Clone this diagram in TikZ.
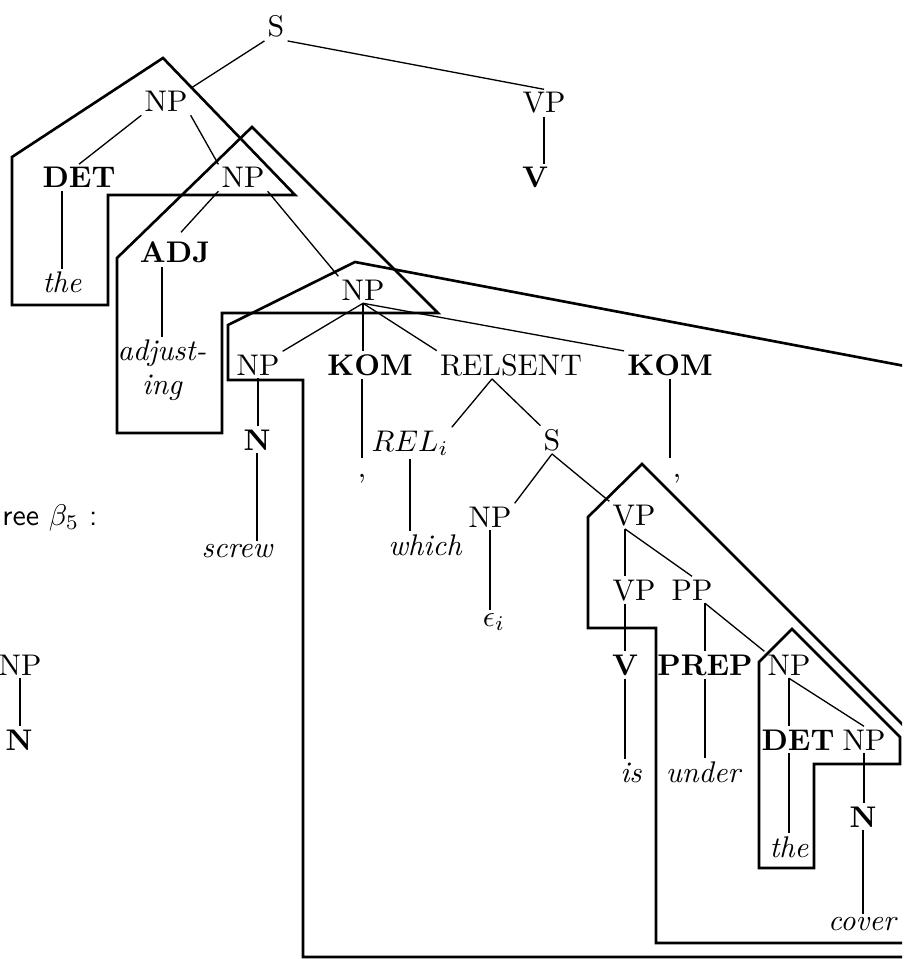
\documentclass[tikz,border=0pt]{standalone}
\begin{document}
\begin{tikzpicture}[
    x=0.02cm, y=-0.02cm,
    cat/.style={anchor=base, inner sep=0.9pt, scale=1.7, font=\fontsize{10}{11.2}\selectfont},
    lex/.style={cat, font=\fontsize{10}{11.2}\selectfont\bfseries},
    word/.style={cat, font=\fontsize{10}{11.2}\selectfont\itshape},
    br/.style={line width=0.75pt},
    outl/.style={line width=1.5pt}
]
\useasboundingbox (0,0) rectangle (912,959);

\node[cat] (s0) at (276,37) {S};
\node[cat] (vp0) at (544,113) {VP};
\node[lex] (v0) at (535,188) {V};

\node[cat] (np1) at (166,112) {NP};
\node[lex] (det1) at (79,188) {DET};
\node[cat] (np2) at (243,188) {NP};
\node[word] (the1) at (62,293) {the};
\node[lex] (adj1) at (175,263) {ADJ};
\node[word, anchor=center, align=center] (adjust) at (162,370) {adjust-\\ing};

\node[cat] (np3) at (363,300) {NP};
\node[cat] (np4) at (258,375) {NP};
\node[lex] (kom1) at (370,375) {KOM};
\node[cat] (relsent) at (511,375) {RELSENT};
\node[lex] (kom2) at (670,375) {KOM};

\node[lex] (n1) at (257,450) {N};
\node[word] (screw) at (237,557) {screw};
\node[cat] (comma1) at (362,477) {,};
\node[cat] (rel) at (410,451) {$REL_i$};
\node[word] (which) at (425,555) {which};
\node[cat] (s1) at (552,450) {S};
\node[cat] (np5) at (490,527) {NP};
\node[cat] (eps) at (494,626) {$\epsilon_i$};
\node[cat] (comma2) at (677,477) {,};

\node[cat] (vp1) at (634,525) {VP};
\node[cat] (vp2) at (634,600) {VP};
\node[cat] (pp) at (692,600) {PP};
\node[lex] (v1) at (625,675) {V};
\node[lex] (prep) at (705,675) {PREP};
\node[cat] (np6) at (789,675) {NP};
\node[word] (is) at (631,782) {is};
\node[word] (under) at (703,782) {under};
\node[lex] (det2) at (798,750) {DET};
\node[cat] (np7) at (864,750) {NP};
\node[word] (the2) at (789,857) {the};
\node[lex] (n2) at (863,827) {N};
\node[word] (cover) at (862,930) {cover};

\node[cat, anchor=base west] (treelbl) at (-1,525) {\sffamily ree $\beta_5$ :};
\node[cat] (npL) at (20,675) {NP};
\node[lex] (nL) at (19,750) {N};

\draw[br] (s0.south west) -- (np1.north east);
\draw[br] (s0.south east) -- (vp0.north);
\draw[br] (vp0.south) -- (vp0.south |- v0.north);

\draw[br] (np1.south west) -- (det1.north);
\draw[br] (np1.south east) -- (np2.north west);
\draw[br] (the1.north |- det1.south) -- (the1.north);
\draw[br, shorten >=5pt] (np2.south west) -- (adj1.north);
\draw[br] (np2.south east) -- (np3.north west);
\draw[br] (adjust.north |- adj1.south) -- (adjust.north);

\draw[br] (np3.south) -- (np4.north east);
\draw[br] (np3.south) -- (np3.south |- kom1.north);
\draw[br] (np3.south) -- (relsent.north west);
\draw[br] (np3.south) -- (kom2.north west);
\draw[br] (np4.south) -- (np4.south |- n1.north);
\draw[br] (n1.south) -- (n1.south |- screw.north);
\draw[br] (comma1.north |- kom1.south) -- ([yshift=7pt]comma1.north);
\draw[br] ([xshift=-0.38cm]relsent.south) -- (rel.north east);
\draw[br] ([xshift=-0.38cm]relsent.south) -- (s1.north west);
\draw[br] (rel.south) -- (rel.south |- which.north);
\draw[br] (s1.south) -- (np5.north east);
\draw[br] (s1.south) -- (vp1.north west);
\draw[br] (np5.south) -- (np5.south |- eps.north);
\draw[br] (kom2.south) -- ([yshift=7pt]kom2.south |- comma2.north);

\draw[br] (v1.north |- vp1.south) -- (v1.north |- vp2.north);
\draw[br] (v1.north |- vp1.south) -- (pp.north);
\draw[br] (v1.north |- vp2.south) -- (v1.north);
\draw[br] (prep.north |- pp.south) -- (prep.north);
\draw[br] (prep.north |- pp.south) -- (np6.north west);
\draw[br] (v1.south) -- (v1.south |- is.north);
\draw[br] (prep.south) -- (prep.south |- under.north);
\draw[br] (np6.south) -- (np6.south |- det2.north);
\draw[br] (np6.south) -- (np7.north);
\draw[br] (the2.north |- det2.south) -- (the2.north);
\draw[br] (np7.south) -- (np7.south |- n2.north);
\draw[br] (n2.south) -- (n2.south |- cover.north);

\draw[br] (npL.south) -- (npL.south |- nL.north);

\draw[outl] (163,58) -- (12,157) -- (12,305) -- (108,305) -- (108,195) -- (295,195) -- cycle;
\draw[outl] (252,127) -- (117,258) -- (117,433) -- (222,433) -- (222,313) -- (438,313) -- cycle;
\draw[outl] (792,629) -- (759,662) -- (759,868) -- (814,868) -- (814,764) -- (900,764) -- (900,737) -- cycle;
\begin{scope}
\clip (0,0) rectangle (902,959);
\draw[outl] (1000,384) -- (355,262) -- (228,325) -- (228,380) -- (303,380) -- (303,957) -- (1000,957);
\draw[outl] (1000,822) -- (642,464) -- (588,517) -- (588,628) -- (656,628) -- (656,943) -- (1000,943);
\end{scope}

\end{tikzpicture}
\end{document}
